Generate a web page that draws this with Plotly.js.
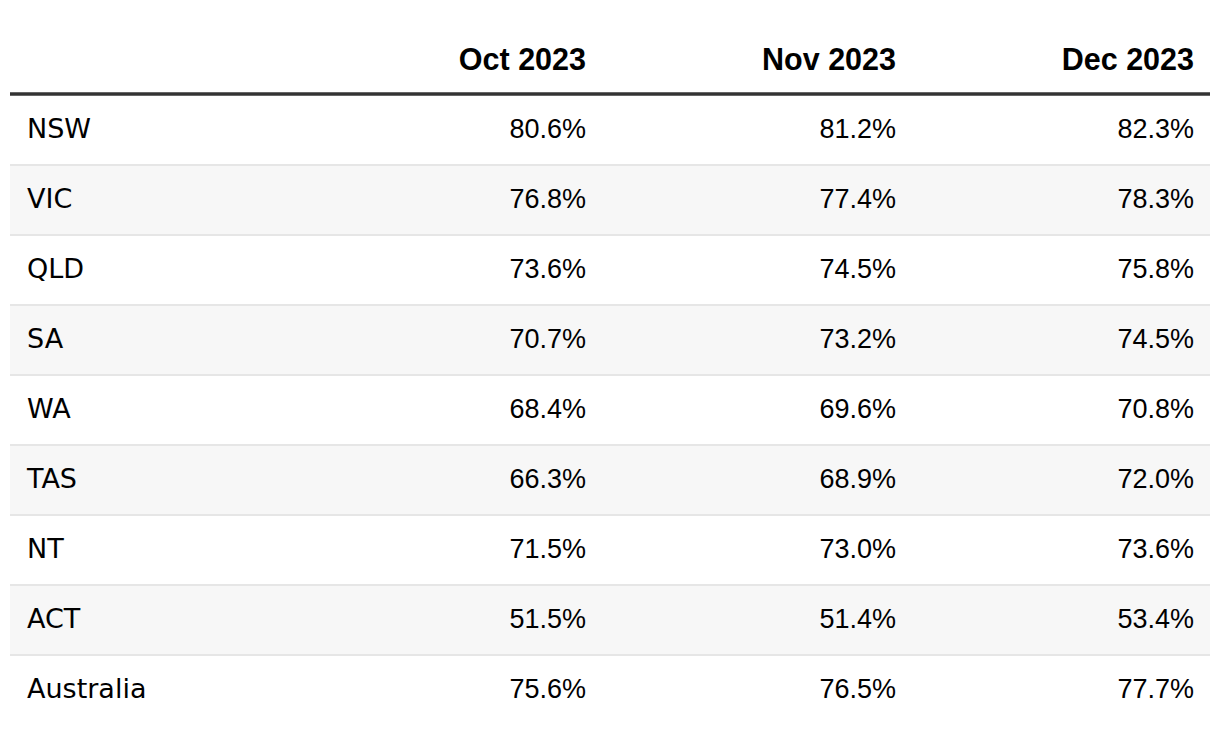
<!DOCTYPE html>
<html>
<head>
<meta charset="utf-8">
<script src="https://cdn.plot.ly/plotly-3.0.1.min.js"></script>
<style>html,body{margin:0;padding:0;background:#fff;}#chart{width:1220px;height:734px;}</style>
</head>
<body>
<div id="chart"></div>
<script>
var columns = ["", "Oct 2023", "Nov 2023", "Dec 2023"];
var regions = ["NSW", "VIC", "QLD", "SA", "WA", "TAS", "NT", "ACT", "Australia"];
var oct2023 = [80.6, 76.8, 73.6, 70.7, 68.4, 66.3, 71.5, 51.5, 75.6];
var nov2023 = [81.2, 77.4, 74.5, 73.2, 69.6, 68.9, 73.0, 51.4, 76.5];
var dec2023 = [82.3, 78.3, 75.8, 74.5, 70.8, 72.0, 73.6, 53.4, 77.7];

var W = 1220, H = 734;
var LABEL_FONT = "'DejaVu Sans', sans-serif";
var NUM_FONT = "'Liberation Sans', Arial, sans-serif";
var rowH = 70;
var tableTopPx = 34;        // top of the (invisible) table block
var headH = 76;             // header block height so body text is centred
var bodyTop = 95;           // visible body start (under the header rule)
var fmt = function (v) { return v.toFixed(1) + "%"; };

var trace = {
  type: "table",
  columnwidth: [281, 294, 310, 298],
  domain: { x: [19 / W, 1202 / W], y: [0, 1 - tableTopPx / H] },
  header: {
    values: columns.map(function (c) { return "<b>" + c + "</b>"; }),
    align: ["left", "right", "right", "right"],
    height: headH,
    fill: { color: "rgba(0,0,0,0)" },
    line: { width: 0, color: "rgba(0,0,0,0)" },
    font: { family: NUM_FONT, size: 30.5, color: "#000" }
  },
  cells: {
    values: [regions, oct2023.map(fmt), nov2023.map(fmt), dec2023.map(fmt)],
    align: ["left", "right", "right", "right"],
    height: rowH,
    fill: { color: "rgba(0,0,0,0)" },
    line: { width: 0, color: "rgba(0,0,0,0)" },
    font: { family: [LABEL_FONT, NUM_FONT, NUM_FONT, NUM_FONT], size: 27, color: "#000" }
  }
};

var shapes = [];
function py(p) { return 1 - p / H; }
regions.forEach(function (r, i) {
  if (i % 2 === 1) {
    shapes.push({ type: "rect", xref: "paper", yref: "paper", layer: "below",
      x0: 10 / W, x1: 1210 / W, y0: py(bodyTop + i * rowH), y1: py(bodyTop + (i + 1) * rowH),
      fillcolor: "#f7f7f7", line: { width: 0 } });
  }
  if (i > 0) {
    shapes.push({ type: "line", xref: "paper", yref: "paper",
      x0: 10 / W, x1: 1210 / W, y0: py(bodyTop + i * rowH), y1: py(bodyTop + i * rowH),
      line: { color: "#e6e6e6", width: 2 } });
  }
});
shapes.push({ type: "line", xref: "paper", yref: "paper",
  x0: 10 / W, x1: 1210 / W, y0: py(bodyTop - 1), y1: py(bodyTop - 1),
  line: { color: "#333333", width: 3.5 } });

var layout = {
  width: W, height: H,
  margin: { l: 0, r: 0, t: 0, b: 0 },
  paper_bgcolor: "#ffffff",
  shapes: shapes,
  showlegend: false
};
Plotly.newPlot("chart", [trace], layout, { displayModeBar: false, staticPlot: true });
</script>
</body>
</html>
